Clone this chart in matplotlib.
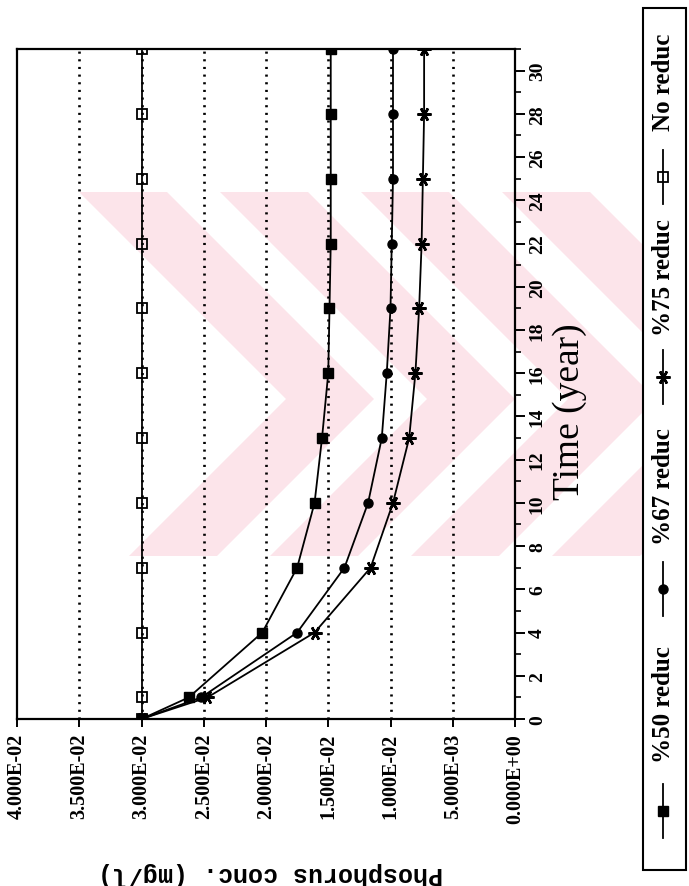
import matplotlib
matplotlib.use('Agg')

import numpy as np
import matplotlib.pyplot as plt
from matplotlib.patches import Polygon, Rectangle
from matplotlib.ticker import MultipleLocator, FixedLocator, FuncFormatter

# Phosphorus concentration (mg/l) for each load reduction scenario
years = [0, 1, 4, 7, 10, 13, 16, 19, 22, 25, 28, 31]
reduc_50 = [0.0300, 0.0262, 0.0203, 0.0175, 0.0161, 0.0155, 0.0150, 0.0149, 0.0148, 0.0148, 0.0148, 0.0148]
reduc_67 = [0.0300, 0.0252, 0.0175, 0.0137, 0.0118, 0.0107, 0.0103, 0.0100, 0.0099, 0.0098, 0.0098, 0.0098]
reduc_75 = [0.0300, 0.0247, 0.0161, 0.0116, 0.0098, 0.0085, 0.0080, 0.0077, 0.0075, 0.0074, 0.0073, 0.0073]
no_reduc = [0.0300, 0.0300, 0.0300, 0.0300, 0.0300, 0.0300, 0.0300, 0.0300, 0.0300, 0.0300, 0.0300, 0.0300]
names = ['%50 reduc', '%67 reduc', '%75 reduc', 'No reduc']

conc_ticks = [0.040, 0.035, 0.030, 0.025, 0.020, 0.015, 0.010, 0.005, 0.0]
time_ticks = list(range(0, 31, 2))

W, H = 689, 887
fig = plt.figure(figsize=(W / 100, H / 100), dpi=100)

# background layer in pixel units: watermark + legend box
bg = fig.add_axes([0, 0, 1, 1], zorder=0)
bg.set_xlim(0, W)
bg.set_ylim(H, 0)
bg.axis('off')

pink = '#fce4ea'
clip = Rectangle((80, 193), 563, 364, transform=bg.transData)
for k in range(7):
    d1 = 286 + 141 * k
    d2 = d1 + 88
    band = Polygon([(d1 - 400, 0), (d1, 400), (d1 - 487, H),
                    (d2 - 487, H), (d2, 400), (d2 - 400, 0)],
                   closed=True, fc=pink, ec='none', zorder=0)
    bg.add_patch(band)
    band.set_clip_path(clip)

# main chart (drawn turned on its side: time runs upward)
ax = fig.add_axes([17 / W, 1 - 720 / H, 498 / W, 670 / H], zorder=1)
ax.set_facecolor('none')

for x in conc_ticks[1:-1]:
    ax.axvline(x, color='black', lw=1.9, ls=(0, (0.8, 2.1)), zorder=1)

lw = 1.3
styles = [dict(marker='s', ms=7),
          dict(marker='o', ms=6.5),
          dict(marker=(6, 2, 30), ms=10, mew=1.8),
          dict(marker='s', ms=6.5, mfc='none', mew=1.3)]
for vals, st in zip([reduc_50, reduc_67, reduc_75, no_reduc], styles):
    ax.plot(vals, years, color='black', lw=lw, zorder=3, **st)

ax.set_xlim(0.04, 0.0)
ax.set_ylim(0, 31)
for s in ax.spines.values():
    s.set_linewidth(1.6)

ax.xaxis.set_major_locator(FixedLocator(conc_ticks))
ax.xaxis.set_major_formatter(FuncFormatter(lambda v, p: '%.3E' % v))
ax.tick_params(axis='x', direction='out', length=6, width=1.4, pad=4,
               labelrotation=90, labelsize=14.5)

ax.yaxis.tick_right()
ax.yaxis.set_label_position('right')
ax.yaxis.set_major_locator(FixedLocator(time_ticks))
ax.yaxis.set_minor_locator(MultipleLocator(1))
ax.tick_params(axis='y', which='major', direction='out', length=7, width=1.4, pad=3,
               labelrotation=90, labelsize=14)
ax.tick_params(axis='y', which='minor', direction='out', length=4, width=1.2)

for t in ax.get_xticklabels() + ax.get_yticklabels():
    t.set_fontfamily('Liberation Serif')
    t.set_fontweight('bold')
for t in ax.get_yticklabels():
    t.set_va('center')

ax.set_ylabel('Time (year)', rotation=90, fontsize=27, family='Liberation Serif')
ax.yaxis.set_label_coords(1.075, 0.46)
ax.set_xlabel('Phosphorus conc. (mg/l)', rotation=180, fontsize=18,
              family='Liberation Mono', fontweight='bold')
ax.xaxis.set_label_coords(0.51, -0.212)

# legend, stacked bottom to top
bg.add_patch(Rectangle((643, 9), 43, 862, fc='white', ec='black', lw=1.5, zorder=2))
leg_x = 663
mark_y = [812, 590, 378, 178]
text_y = [705, 487, 278, 82]
for name, st, my, ty in zip(names, styles, mark_y, text_y):
    bg.plot([leg_x, leg_x], [my - 27, my + 27], color='black', lw=lw, zorder=3)
    bg.plot([leg_x], [my], color='black', zorder=4, **st)
    bg.text(leg_x, ty, name, rotation=90, ha='center', va='center', fontsize=18,
            family='Liberation Serif', fontweight='bold', zorder=4)

fig.savefig('out.png', dpi=100)
